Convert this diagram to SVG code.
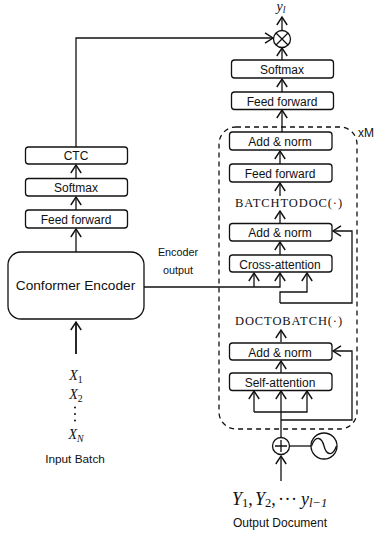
<svg xmlns="http://www.w3.org/2000/svg" width="375" height="533" viewBox="0 0 375 533">
<style>
text{font-family:"Liberation Sans",Arial,sans-serif;fill:#111;text-anchor:middle}
.b{fill:#fff;stroke:#111;stroke-width:1.3}
.l{font-size:12px}
.m{font-family:"Liberation Serif","Times New Roman",serif;font-style:italic}
.c{font-family:"Liberation Serif","Times New Roman",serif;font-size:12.500px;letter-spacing:.9px}
.s{font-size:70%}
#connectors path{fill:none;stroke:#111;stroke-width:1.3}
.a{marker-end:url(#arr)}
</style>
<defs>
<marker id="arr" markerUnits="userSpaceOnUse" markerWidth="14" markerHeight="14" refX="11" refY="6" orient="auto">
<path d="M3 0.8L11 6L3 11.2" fill="none" stroke="#111" stroke-width="1.4"/>
</marker>
</defs>
<g id="connectors">
<path class="a" d="M76 354V322" style="stroke-width:1.8"/>
<path class="a" d="M76 252V229"/>
<path class="a" d="M76 210V197"/>
<path class="a" d="M76 178V165"/>
<path class="a" d="M76 147V38H273"/>
<path class="a" d="M144 287H280V273"/>
<path class="a" d="M254 287V273"/>
<path class="a" d="M280 303V292H307V273"/>
<path class="a" d="M280 303H352V231H333"/>
<path class="a" d="M280 255V242"/>
<path class="a" d="M280 223V211"/>
<path class="a" d="M280 196V183"/>
<path class="a" d="M280 164V151"/>
<path class="a" d="M282 132V110"/>
<path class="a" d="M282 92V79"/>
<path class="a" d="M282 60V48"/>
<path class="a" d="M282 30V17"/>
<path class="a" d="M281 342V330"/>
<path class="a" d="M281 373V361"/>
<path class="a" d="M281 437V391"/>
<path class="a" d="M254 412V391"/>
<path class="a" d="M254 412H307V391"/>
<path class="a" d="M281 420H352V351H333"/>
<path d="M290 446H311"/>
<path class="a" d="M281 481V456"/>
</g>
<rect id="loop" x="219" y="127" width="138" height="302" rx="17" fill="none" stroke="#111" stroke-width="1.3" stroke-dasharray="5 4"/>
<text x="366" y="137" font-size="12">xM</text>
<g id="ctc"><rect class="b" x="25.500" y="147" width="102" height="17" rx="3"/><text class="l" x="76" y="160">CTC</text></g>
<g id="softmax-left"><rect class="b" x="25.500" y="178.500" width="102" height="17.500" rx="3"/><text class="l" x="76" y="192">Softmax</text></g>
<g id="ff-left"><rect class="b" x="25.500" y="210" width="102" height="18" rx="3"/><text class="l" x="76" y="224">Feed forward</text></g>
<g id="conformer"><rect class="b" x="8" y="252" width="136" height="67" rx="13"/><text x="75.500" y="290" font-size="13.700">Conformer Encoder</text></g>
<g id="encoder-output"><text x="178" y="256" font-size="10.800">Encoder</text><text x="178" y="274" font-size="10.800">output</text></g>
<g id="input">
<text class="m" x="76" y="380" font-size="14">X<tspan class="s" dy="3" font-style="normal">1</tspan></text>
<text class="m" x="76" y="399" font-size="14">X<tspan class="s" dy="3" font-style="normal">2</tspan></text>
<circle cx="75" cy="407.500" r="1" fill="#111"/><circle cx="75" cy="414" r="1" fill="#111"/><circle cx="75" cy="420.500" r="1" fill="#111"/>
<text class="m" x="76" y="439" font-size="14">X<tspan class="s" dy="3">N</tspan></text>
<text x="75" y="463" font-size="11.800">Input Batch</text>
</g>
<g id="mix"><circle class="b" cx="282" cy="39" r="8.500"/><path d="M276 33L288 45M288 33L276 45" stroke="#111" stroke-width="1.3"/></g>
<text class="m" x="281" y="11" font-size="14">y<tspan class="s" dy="2">l</tspan></text>
<g id="softmax-right"><rect class="b" x="231.500" y="60" width="102" height="18" rx="3"/><text class="l" x="282" y="74">Softmax</text></g>
<g id="ff-right"><rect class="b" x="231.500" y="92" width="102" height="17.500" rx="3"/><text class="l" x="282" y="106">Feed forward</text></g>
<g id="addnorm-3"><rect class="b" x="229.500" y="132" width="102.500" height="18" rx="3"/><text class="l" x="280" y="146">Add &amp; norm</text></g>
<g id="ff-inner"><rect class="b" x="229.500" y="164" width="102.500" height="18" rx="3"/><text class="l" x="280" y="178">Feed forward</text></g>
<text class="c" x="289" y="207">BATCHTODOC(·)</text>
<g id="addnorm-2"><rect class="b" x="229.500" y="223.500" width="102.500" height="17.500" rx="3"/><text class="l" x="280" y="237">Add &amp; norm</text></g>
<g id="cross"><rect class="b" x="229.500" y="255" width="102.500" height="17" rx="3"/><text class="l" x="280" y="269">Cross-attention</text></g>
<text class="c" x="289" y="325">DOCTOBATCH(·)</text>
<g id="addnorm-1"><rect class="b" x="229.500" y="343" width="102.500" height="17" rx="3"/><text class="l" x="280" y="357">Add &amp; norm</text></g>
<g id="self"><rect class="b" x="229.500" y="373" width="102.500" height="17.500" rx="3"/><text class="l" x="280" y="387">Self-attention</text></g>
<g id="plus"><circle class="b" cx="281" cy="446" r="8.500"/><path d="M275 446H287M281 440V452" stroke="#111" stroke-width="1.3"/></g>
<g id="pos"><circle class="b" cx="324" cy="446" r="13"/><path d="M311.500 446C316 434 322 438 324 446C326 454 332 458 336.500 446" fill="none" stroke="#111" stroke-width="1.3"/></g>
<text class="m" y="505" font-size="18" style="text-anchor:start"><tspan x="232">Y</tspan><tspan class="s" dy="2" font-style="normal">1</tspan><tspan dy="-2" font-style="normal">,</tspan><tspan x="255">Y</tspan><tspan class="s" dy="2" font-style="normal">2</tspan><tspan dy="-2" font-style="normal">,</tspan><tspan x="278" font-style="normal">·</tspan><tspan x="284.500" font-style="normal">·</tspan><tspan x="291" font-style="normal">·</tspan><tspan x="301">y</tspan><tspan class="s" dy="2">l−1</tspan></text>
<text x="280" y="527" font-size="12">Output Document</text>
</svg>
